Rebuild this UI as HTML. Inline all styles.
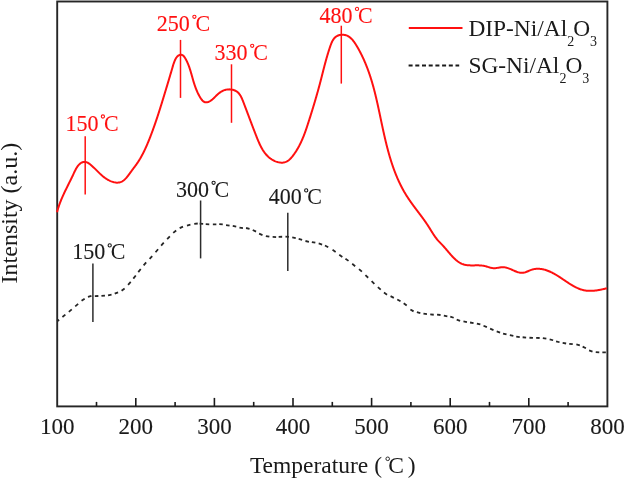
<!DOCTYPE html>
<html><head><meta charset="utf-8"><style>
html,body{margin:0;padding:0;background:#fff;}
body{width:625px;height:479px;overflow:hidden;}
svg{display:block;will-change:transform;}
text{font-family:"Liberation Serif",serif;}
</style></head><body>
<svg width="625" height="479" viewBox="0 0 625 479">
<rect x="57.2" y="1.5" width="550.2" height="404.9" fill="none" stroke="#262626" stroke-width="1.9"/>
<line x1="96.50" y1="406.4" x2="96.50" y2="401.9" stroke="#1a1a1a" stroke-width="1.6"/>
<line x1="135.80" y1="406.4" x2="135.80" y2="397.9" stroke="#1a1a1a" stroke-width="1.6"/>
<line x1="175.10" y1="406.4" x2="175.10" y2="401.9" stroke="#1a1a1a" stroke-width="1.6"/>
<line x1="214.40" y1="406.4" x2="214.40" y2="397.9" stroke="#1a1a1a" stroke-width="1.6"/>
<line x1="253.70" y1="406.4" x2="253.70" y2="401.9" stroke="#1a1a1a" stroke-width="1.6"/>
<line x1="293.00" y1="406.4" x2="293.00" y2="397.9" stroke="#1a1a1a" stroke-width="1.6"/>
<line x1="332.30" y1="406.4" x2="332.30" y2="401.9" stroke="#1a1a1a" stroke-width="1.6"/>
<line x1="371.60" y1="406.4" x2="371.60" y2="397.9" stroke="#1a1a1a" stroke-width="1.6"/>
<line x1="410.90" y1="406.4" x2="410.90" y2="401.9" stroke="#1a1a1a" stroke-width="1.6"/>
<line x1="450.20" y1="406.4" x2="450.20" y2="397.9" stroke="#1a1a1a" stroke-width="1.6"/>
<line x1="489.50" y1="406.4" x2="489.50" y2="401.9" stroke="#1a1a1a" stroke-width="1.6"/>
<line x1="528.80" y1="406.4" x2="528.80" y2="397.9" stroke="#1a1a1a" stroke-width="1.6"/>
<line x1="568.10" y1="406.4" x2="568.10" y2="401.9" stroke="#1a1a1a" stroke-width="1.6"/>
<text stroke="#1a1a1a" stroke-width="0.12" stroke-linejoin="round" transform="translate(57.2,433.5) scale(1,1.03)" font-size="23" text-anchor="middle" fill="#1a1a1a">100</text>
<text stroke="#1a1a1a" stroke-width="0.12" stroke-linejoin="round" transform="translate(135.8,433.5) scale(1,1.03)" font-size="23" text-anchor="middle" fill="#1a1a1a">200</text>
<text stroke="#1a1a1a" stroke-width="0.12" stroke-linejoin="round" transform="translate(214.4,433.5) scale(1,1.03)" font-size="23" text-anchor="middle" fill="#1a1a1a">300</text>
<text stroke="#1a1a1a" stroke-width="0.12" stroke-linejoin="round" transform="translate(293.0,433.5) scale(1,1.03)" font-size="23" text-anchor="middle" fill="#1a1a1a">400</text>
<text stroke="#1a1a1a" stroke-width="0.12" stroke-linejoin="round" transform="translate(371.6,433.5) scale(1,1.03)" font-size="23" text-anchor="middle" fill="#1a1a1a">500</text>
<text stroke="#1a1a1a" stroke-width="0.12" stroke-linejoin="round" transform="translate(450.2,433.5) scale(1,1.03)" font-size="23" text-anchor="middle" fill="#1a1a1a">600</text>
<text stroke="#1a1a1a" stroke-width="0.12" stroke-linejoin="round" transform="translate(528.8,433.5) scale(1,1.03)" font-size="23" text-anchor="middle" fill="#1a1a1a">700</text>
<text stroke="#1a1a1a" stroke-width="0.12" stroke-linejoin="round" transform="translate(607.4,433.5) scale(1,1.03)" font-size="23" text-anchor="middle" fill="#1a1a1a">800</text>
<path d="M57.02,212.17L57.22,211.43L57.43,210.69L57.64,209.96L57.85,209.23L58.07,208.52L58.29,207.81L58.52,207.10L58.75,206.41L58.98,205.72L59.22,205.03L59.46,204.35L59.71,203.68L59.95,203.01L60.20,202.35L60.46,201.69L60.72,201.03L60.98,200.38L61.24,199.73L61.51,199.09L61.78,198.45L62.05,197.81L62.32,197.18L62.60,196.55L62.88,195.92L63.16,195.29L63.45,194.66L63.73,194.04L64.02,193.42L64.32,192.79L64.61,192.17L64.91,191.55L65.20,190.93L65.50,190.31L65.81,189.69L66.11,189.07L66.42,188.45L66.72,187.83L67.03,187.21L67.34,186.58L67.65,185.95L67.97,185.33L68.28,184.70L68.60,184.06L68.91,183.43L69.23,182.79L69.55,182.15L69.87,181.50L70.19,180.85L70.51,180.20L70.84,179.54L71.16,178.88L71.48,178.22L71.81,177.54L72.13,176.87L72.46,176.19L72.78,175.50L73.11,174.81L73.43,174.11L73.76,173.41L74.09,172.70L74.42,172.00L74.76,171.30L75.10,170.61L75.45,169.93L75.80,169.26L76.16,168.60L76.54,167.96L76.92,167.34L77.31,166.74L77.71,166.16L78.13,165.61L78.56,165.09L79.01,164.60L79.47,164.14L79.95,163.72L80.44,163.34L80.96,163.00L81.49,162.70L82.05,162.45L82.62,162.25L83.22,162.09L83.83,161.99L84.45,161.95L85.08,161.97L85.71,162.04L86.34,162.18L86.97,162.39L87.60,162.66L88.22,163.00L88.83,163.39L89.43,163.81L90.01,164.27L90.59,164.74L91.16,165.21L91.71,165.69L92.26,166.17L92.79,166.66L93.32,167.15L93.85,167.65L94.36,168.15L94.87,168.65L95.38,169.15L95.88,169.65L96.38,170.15L96.88,170.65L97.38,171.15L97.88,171.65L98.38,172.15L98.88,172.65L99.39,173.14L99.90,173.63L100.41,174.11L100.93,174.59L101.46,175.07L102.00,175.53L102.54,176.00L103.09,176.45L103.65,176.90L104.23,177.34L104.81,177.77L105.41,178.19L106.02,178.61L106.65,179.01L107.28,179.40L107.93,179.77L108.58,180.13L109.25,180.47L109.92,180.79L110.59,181.09L111.27,181.37L111.95,181.62L112.63,181.86L113.32,182.06L114.00,182.24L114.68,182.38L115.36,182.50L116.04,182.58L116.71,182.63L117.37,182.64L118.03,182.61L118.68,182.55L119.32,182.45L119.95,182.30L120.56,182.11L121.16,181.88L121.75,181.60L122.33,181.28L122.89,180.92L123.44,180.53L123.99,180.10L124.52,179.64L125.04,179.16L125.55,178.64L126.05,178.11L126.54,177.55L127.03,176.98L127.51,176.39L127.98,175.79L128.45,175.18L128.91,174.56L129.37,173.94L129.82,173.32L130.27,172.70L130.72,172.08L131.16,171.46L131.60,170.86L132.04,170.27L132.48,169.68L132.92,169.10L133.35,168.52L133.78,167.96L134.21,167.39L134.63,166.82L135.05,166.26L135.47,165.70L135.88,165.14L136.28,164.57L136.68,164.01L137.08,163.43L137.47,162.86L137.86,162.28L138.24,161.70L138.61,161.12L138.98,160.53L139.35,159.94L139.71,159.34L140.07,158.75L140.42,158.14L140.77,157.54L141.11,156.93L141.45,156.33L141.79,155.71L142.12,155.10L142.45,154.48L142.77,153.86L143.09,153.24L143.41,152.61L143.72,151.99L144.03,151.36L144.34,150.72L144.64,150.09L144.94,149.45L145.24,148.81L145.54,148.17L145.83,147.53L146.12,146.88L146.41,146.24L146.69,145.59L146.97,144.94L147.25,144.29L147.53,143.63L147.80,142.98L148.08,142.32L148.35,141.66L148.62,141.00L148.89,140.34L149.15,139.68L149.42,139.02L149.68,138.35L149.94,137.69L150.20,137.02L150.46,136.35L150.72,135.68L150.97,135.01L151.23,134.34L151.48,133.67L151.73,133.00L151.99,132.33L152.24,131.65L152.48,130.98L152.73,130.30L152.98,129.63L153.22,128.95L153.47,128.27L153.71,127.59L153.95,126.92L154.19,126.24L154.43,125.56L154.67,124.88L154.91,124.20L155.14,123.52L155.38,122.83L155.61,122.15L155.84,121.47L156.08,120.79L156.31,120.11L156.54,119.43L156.76,118.74L156.99,118.06L157.22,117.38L157.44,116.70L157.67,116.01L157.89,115.33L158.12,114.65L158.34,113.97L158.56,113.28L158.78,112.60L159.00,111.92L159.22,111.24L159.44,110.56L159.65,109.88L159.87,109.20L160.08,108.52L160.30,107.84L160.51,107.16L160.72,106.48L160.94,105.80L161.15,105.12L161.36,104.45L161.57,103.77L161.78,103.09L161.99,102.42L162.20,101.74L162.40,101.07L162.61,100.40L162.82,99.73L163.02,99.05L163.23,98.38L163.43,97.72L163.63,97.05L163.84,96.38L164.04,95.71L164.24,95.05L164.44,94.38L164.64,93.72L164.84,93.06L165.04,92.40L165.24,91.74L165.44,91.08L165.64,90.42L165.84,89.77L166.04,89.11L166.24,88.46L166.43,87.81L166.63,87.15L166.83,86.50L167.03,85.84L167.22,85.18L167.42,84.53L167.62,83.87L167.82,83.21L168.02,82.54L168.22,81.88L168.42,81.21L168.62,80.54L168.82,79.87L169.02,79.19L169.22,78.51L169.43,77.82L169.63,77.14L169.84,76.44L170.04,75.74L170.25,75.04L170.46,74.33L170.67,73.62L170.88,72.89L171.09,72.17L171.31,71.43L171.53,70.69L171.74,69.95L171.96,69.19L172.19,68.43L172.41,67.66L172.64,66.89L172.87,66.11L173.10,65.33L173.34,64.56L173.59,63.80L173.85,63.05L174.11,62.31L174.38,61.59L174.67,60.88L174.96,60.20L175.27,59.55L175.59,58.92L175.93,58.33L176.28,57.77L176.64,57.25L177.03,56.76L177.43,56.33L177.85,55.94L178.29,55.60L178.75,55.31L179.24,55.08L179.74,54.90L180.27,54.79L180.81,54.75L181.35,54.79L181.89,54.91L182.42,55.11L182.92,55.41L183.40,55.81L183.85,56.28L184.28,56.82L184.70,57.41L185.09,58.03L185.47,58.67L185.83,59.31L186.18,59.97L186.52,60.62L186.85,61.28L187.17,61.94L187.47,62.61L187.76,63.28L188.05,63.96L188.32,64.64L188.59,65.32L188.85,66.00L189.10,66.69L189.34,67.37L189.58,68.06L189.81,68.75L190.03,69.45L190.25,70.14L190.46,70.84L190.67,71.53L190.88,72.23L191.08,72.92L191.28,73.62L191.47,74.31L191.67,75.01L191.86,75.70L192.06,76.39L192.25,77.08L192.44,77.77L192.64,78.46L192.83,79.14L193.03,79.82L193.23,80.50L193.43,81.18L193.63,81.86L193.84,82.54L194.05,83.21L194.26,83.88L194.48,84.55L194.70,85.22L194.93,85.88L195.16,86.55L195.40,87.21L195.65,87.87L195.90,88.54L196.16,89.20L196.42,89.85L196.70,90.51L196.98,91.17L197.27,91.82L197.57,92.47L197.87,93.13L198.19,93.78L198.52,94.43L198.85,95.08L199.20,95.73L199.56,96.37L199.93,97.02L200.31,97.66L200.71,98.29L201.12,98.90L201.55,99.48L201.99,100.03L202.45,100.54L202.93,101.00L203.42,101.40L203.94,101.74L204.48,102.01L205.05,102.21L205.63,102.32L206.24,102.35L206.87,102.29L207.50,102.16L208.14,101.98L208.76,101.73L209.37,101.44L209.98,101.11L210.56,100.74L211.15,100.34L211.72,99.91L212.28,99.45L212.84,98.96L213.40,98.46L213.95,97.94L214.49,97.42L215.04,96.88L215.59,96.35L216.14,95.81L216.69,95.28L217.24,94.76L217.80,94.26L218.36,93.76L218.93,93.29L219.51,92.85L220.10,92.42L220.69,92.02L221.29,91.65L221.90,91.30L222.52,90.97L223.15,90.68L223.79,90.41L224.43,90.17L225.09,89.96L225.76,89.78L226.43,89.63L227.12,89.52L227.81,89.43L228.52,89.38L229.24,89.37L229.96,89.38L230.68,89.43L231.40,89.52L232.11,89.64L232.82,89.79L233.51,89.98L234.19,90.21L234.84,90.47L235.48,90.76L236.09,91.09L236.67,91.45L237.22,91.85L237.74,92.29L238.24,92.75L238.70,93.24L239.15,93.76L239.56,94.31L239.96,94.88L240.34,95.47L240.70,96.07L241.04,96.70L241.37,97.34L241.68,97.99L241.98,98.66L242.27,99.33L242.55,100.01L242.83,100.70L243.10,101.38L243.36,102.07L243.63,102.76L243.89,103.45L244.15,104.13L244.41,104.82L244.67,105.50L244.93,106.18L245.18,106.85L245.44,107.53L245.69,108.20L245.95,108.87L246.20,109.54L246.45,110.21L246.70,110.88L246.95,111.54L247.20,112.21L247.45,112.87L247.70,113.53L247.95,114.20L248.20,114.86L248.45,115.52L248.70,116.17L248.94,116.83L249.19,117.49L249.44,118.15L249.69,118.80L249.93,119.46L250.18,120.11L250.43,120.77L250.67,121.42L250.92,122.08L251.17,122.73L251.42,123.39L251.66,124.04L251.91,124.70L252.16,125.35L252.41,126.01L252.66,126.66L252.91,127.32L253.16,127.98L253.42,128.63L253.67,129.29L253.92,129.95L254.18,130.61L254.43,131.27L254.69,131.93L254.94,132.59L255.20,133.26L255.46,133.92L255.72,134.59L255.98,135.25L256.25,135.92L256.51,136.59L256.78,137.26L257.04,137.94L257.31,138.61L257.58,139.28L257.86,139.95L258.14,140.62L258.42,141.29L258.71,141.96L259.00,142.63L259.29,143.29L259.60,143.95L259.90,144.60L260.21,145.25L260.53,145.90L260.86,146.54L261.19,147.18L261.53,147.81L261.88,148.44L262.24,149.06L262.60,149.67L262.97,150.27L263.36,150.87L263.75,151.45L264.15,152.03L264.56,152.60L264.99,153.16L265.42,153.71L265.87,154.25L266.32,154.77L266.79,155.29L267.27,155.80L267.77,156.29L268.28,156.77L268.80,157.23L269.34,157.68L269.89,158.12L270.45,158.54L271.03,158.95L271.63,159.35L272.24,159.72L272.87,160.08L273.51,160.43L274.17,160.75L274.84,161.06L275.52,161.34L276.21,161.60L276.91,161.84L277.62,162.05L278.32,162.23L279.03,162.38L279.74,162.50L280.45,162.59L281.15,162.64L281.85,162.66L282.54,162.64L283.22,162.58L283.89,162.48L284.55,162.34L285.19,162.15L285.81,161.92L286.42,161.64L287.02,161.33L287.60,160.98L288.16,160.60L288.72,160.18L289.26,159.74L289.78,159.27L290.30,158.77L290.80,158.25L291.29,157.72L291.77,157.16L292.24,156.60L292.70,156.02L293.15,155.43L293.59,154.84L294.02,154.24L294.45,153.65L294.86,153.05L295.27,152.44L295.67,151.84L296.07,151.23L296.45,150.62L296.83,150.00L297.20,149.39L297.57,148.77L297.93,148.15L298.28,147.53L298.62,146.91L298.96,146.28L299.30,145.65L299.62,145.02L299.94,144.39L300.26,143.75L300.57,143.12L300.87,142.48L301.17,141.84L301.47,141.20L301.76,140.56L302.04,139.91L302.32,139.26L302.60,138.62L302.87,137.97L303.14,137.32L303.40,136.66L303.66,136.01L303.92,135.35L304.17,134.70L304.42,134.04L304.67,133.38L304.91,132.72L305.16,132.05L305.39,131.39L305.63,130.73L305.86,130.06L306.09,129.39L306.32,128.72L306.55,128.06L306.78,127.39L307.00,126.72L307.22,126.04L307.44,125.37L307.66,124.70L307.88,124.02L308.10,123.35L308.32,122.67L308.54,122.00L308.75,121.32L308.97,120.64L309.19,119.97L309.40,119.29L309.62,118.61L309.84,117.93L310.05,117.25L310.27,116.57L310.48,115.89L310.70,115.21L310.91,114.53L311.12,113.84L311.34,113.16L311.55,112.48L311.76,111.79L311.97,111.11L312.18,110.43L312.39,109.74L312.60,109.06L312.81,108.37L313.02,107.69L313.23,107.00L313.44,106.32L313.64,105.63L313.85,104.95L314.06,104.26L314.26,103.58L314.47,102.89L314.67,102.20L314.88,101.52L315.08,100.83L315.28,100.14L315.48,99.46L315.68,98.77L315.88,98.08L316.08,97.40L316.28,96.71L316.48,96.03L316.67,95.34L316.87,94.65L317.06,93.97L317.26,93.28L317.45,92.60L317.64,91.91L317.84,91.22L318.03,90.54L318.22,89.85L318.41,89.17L318.59,88.49L318.78,87.80L318.97,87.12L319.15,86.43L319.34,85.75L319.52,85.07L319.70,84.38L319.88,83.70L320.06,83.02L320.24,82.34L320.42,81.66L320.60,80.98L320.77,80.30L320.95,79.62L321.12,78.94L321.30,78.26L321.47,77.58L321.64,76.90L321.81,76.22L321.99,75.54L322.16,74.87L322.33,74.19L322.50,73.51L322.68,72.83L322.85,72.15L323.02,71.47L323.19,70.79L323.37,70.11L323.54,69.43L323.72,68.75L323.89,68.07L324.07,67.39L324.24,66.71L324.42,66.03L324.60,65.35L324.78,64.67L324.96,63.98L325.14,63.30L325.33,62.62L325.51,61.93L325.70,61.25L325.89,60.56L326.08,59.87L326.27,59.19L326.46,58.50L326.66,57.81L326.86,57.12L327.06,56.43L327.26,55.74L327.47,55.04L327.67,54.35L327.88,53.65L328.10,52.96L328.31,52.26L328.53,51.56L328.75,50.86L328.97,50.16L329.20,49.46L329.43,48.75L329.66,48.05L329.90,47.34L330.14,46.63L330.39,45.93L330.64,45.22L330.89,44.52L331.16,43.82L331.44,43.13L331.73,42.46L332.04,41.79L332.36,41.15L332.70,40.52L333.06,39.91L333.44,39.33L333.85,38.77L334.28,38.24L334.74,37.74L335.23,37.27L335.75,36.84L336.30,36.44L336.89,36.09L337.51,35.78L338.16,35.50L338.84,35.27L339.53,35.08L340.24,34.94L340.96,34.83L341.68,34.76L342.40,34.74L343.11,34.75L343.81,34.81L344.50,34.90L345.16,35.04L345.80,35.21L346.43,35.42L347.04,35.66L347.63,35.94L348.21,36.25L348.77,36.59L349.32,36.95L349.85,37.35L350.37,37.77L350.87,38.22L351.36,38.68L351.84,39.17L352.31,39.68L352.77,40.21L353.21,40.76L353.65,41.32L354.08,41.89L354.50,42.48L354.91,43.08L355.31,43.69L355.70,44.30L356.09,44.93L356.48,45.55L356.85,46.18L357.23,46.82L357.59,47.45L357.96,48.09L358.32,48.73L358.67,49.36L359.03,50.00L359.37,50.64L359.72,51.28L360.06,51.93L360.39,52.57L360.72,53.21L361.05,53.86L361.38,54.50L361.70,55.15L362.01,55.79L362.33,56.44L362.63,57.09L362.94,57.74L363.24,58.39L363.54,59.04L363.84,59.69L364.13,60.35L364.41,61.00L364.70,61.65L364.98,62.31L365.26,62.97L365.53,63.62L365.80,64.28L366.07,64.94L366.34,65.60L366.60,66.26L366.86,66.92L367.12,67.58L367.37,68.24L367.62,68.91L367.87,69.57L368.11,70.24L368.35,70.90L368.59,71.57L368.83,72.23L369.06,72.90L369.29,73.57L369.52,74.24L369.74,74.91L369.97,75.58L370.19,76.25L370.41,76.92L370.62,77.59L370.84,78.26L371.05,78.94L371.26,79.61L371.46,80.29L371.67,80.96L371.87,81.64L372.07,82.31L372.27,82.99L372.46,83.67L372.66,84.35L372.85,85.03L373.04,85.70L373.23,86.38L373.41,87.07L373.60,87.75L373.78,88.43L373.96,89.11L374.14,89.79L374.32,90.48L374.50,91.16L374.67,91.84L374.84,92.53L375.02,93.21L375.19,93.90L375.36,94.59L375.52,95.27L375.69,95.96L375.86,96.65L376.02,97.33L376.18,98.02L376.34,98.71L376.51,99.40L376.66,100.09L376.82,100.78L376.98,101.47L377.14,102.16L377.29,102.85L377.45,103.54L377.60,104.24L377.76,104.93L377.91,105.62L378.06,106.32L378.21,107.01L378.36,107.70L378.51,108.40L378.66,109.09L378.81,109.79L378.96,110.48L379.11,111.18L379.26,111.87L379.40,112.57L379.55,113.27L379.70,113.96L379.85,114.66L379.99,115.36L380.14,116.05L380.29,116.75L380.43,117.45L380.58,118.15L380.73,118.85L380.87,119.54L381.02,120.24L381.17,120.94L381.32,121.64L381.46,122.34L381.61,123.04L381.76,123.74L381.91,124.44L382.06,125.14L382.21,125.84L382.36,126.54L382.51,127.24L382.66,127.94L382.81,128.64L382.96,129.34L383.11,130.04L383.27,130.74L383.42,131.44L383.57,132.14L383.73,132.84L383.88,133.54L384.04,134.24L384.20,134.94L384.36,135.64L384.52,136.34L384.68,137.04L384.84,137.73L385.00,138.43L385.16,139.13L385.33,139.83L385.49,140.52L385.66,141.22L385.83,141.92L386.00,142.61L386.17,143.31L386.34,144.00L386.51,144.70L386.69,145.39L386.86,146.09L387.04,146.78L387.22,147.47L387.40,148.16L387.58,148.86L387.76,149.55L387.94,150.24L388.13,150.93L388.32,151.62L388.51,152.30L388.70,152.99L388.89,153.68L389.08,154.37L389.28,155.05L389.48,155.74L389.68,156.42L389.88,157.10L390.08,157.78L390.29,158.47L390.50,159.15L390.71,159.83L390.92,160.51L391.13,161.18L391.35,161.86L391.56,162.54L391.78,163.21L392.01,163.89L392.23,164.56L392.46,165.23L392.69,165.90L392.92,166.57L393.15,167.24L393.39,167.91L393.63,168.57L393.87,169.24L394.11,169.90L394.36,170.57L394.61,171.23L394.86,171.89L395.11,172.55L395.37,173.20L395.63,173.86L395.89,174.52L396.16,175.17L396.42,175.82L396.69,176.47L396.97,177.12L397.24,177.77L397.52,178.42L397.81,179.07L398.09,179.71L398.38,180.35L398.67,180.99L398.96,181.63L399.26,182.27L399.56,182.91L399.87,183.54L400.17,184.18L400.48,184.81L400.80,185.44L401.12,186.07L401.44,186.69L401.76,187.32L402.09,187.94L402.42,188.56L402.75,189.18L403.09,189.80L403.43,190.42L403.78,191.03L404.12,191.64L404.48,192.25L404.83,192.86L405.19,193.47L405.56,194.07L405.92,194.68L406.29,195.28L406.67,195.88L407.05,196.47L407.43,197.07L407.82,197.66L408.21,198.25L408.60,198.84L409.00,199.43L409.40,200.02L409.80,200.60L410.20,201.18L410.61,201.77L411.02,202.35L411.44,202.93L411.85,203.51L412.27,204.08L412.69,204.66L413.11,205.24L413.53,205.81L413.96,206.38L414.38,206.96L414.81,207.53L415.24,208.10L415.67,208.68L416.10,209.25L416.53,209.82L416.96,210.39L417.39,210.96L417.82,211.54L418.26,212.11L418.69,212.68L419.12,213.25L419.55,213.83L419.98,214.40L420.41,214.97L420.84,215.55L421.27,216.12L421.70,216.70L422.12,217.27L422.55,217.85L422.97,218.43L423.39,219.01L423.81,219.59L424.23,220.17L424.64,220.76L425.06,221.34L425.47,221.93L425.87,222.52L426.28,223.11L426.68,223.70L427.08,224.29L427.48,224.89L427.87,225.48L428.26,226.08L428.65,226.68L429.03,227.29L429.41,227.89L429.79,228.50L430.16,229.11L430.54,229.71L430.91,230.32L431.28,230.93L431.66,231.53L432.03,232.13L432.41,232.73L432.79,233.33L433.17,233.92L433.55,234.51L433.94,235.10L434.33,235.68L434.73,236.25L435.13,236.82L435.54,237.38L435.96,237.94L436.38,238.49L436.82,239.02L437.26,239.55L437.70,240.08L438.16,240.59L438.62,241.11L439.09,241.61L439.56,242.12L440.04,242.62L440.52,243.12L441.00,243.63L441.49,244.13L441.97,244.64L442.46,245.15L442.94,245.67L443.43,246.19L443.91,246.73L444.39,247.27L444.87,247.81L445.35,248.36L445.83,248.92L446.31,249.48L446.79,250.04L447.26,250.61L447.74,251.18L448.22,251.75L448.70,252.31L449.18,252.88L449.66,253.44L450.15,254.00L450.64,254.56L451.13,255.11L451.62,255.66L452.12,256.20L452.62,256.73L453.12,257.26L453.63,257.77L454.14,258.28L454.66,258.77L455.18,259.25L455.71,259.72L456.24,260.18L456.78,260.62L457.33,261.05L457.88,261.46L458.44,261.85L459.01,262.23L459.58,262.59L460.16,262.93L460.75,263.24L461.35,263.54L461.96,263.82L462.58,264.07L463.21,264.29L463.84,264.50L464.49,264.67L465.15,264.83L465.81,264.96L466.49,265.07L467.17,265.16L467.86,265.23L468.55,265.29L469.25,265.33L469.96,265.36L470.68,265.38L471.39,265.39L472.11,265.40L472.84,265.39L473.57,265.39L474.30,265.38L475.03,265.37L475.76,265.36L476.49,265.36L477.23,265.36L477.96,265.36L478.69,265.37L479.42,265.40L480.14,265.43L480.87,265.48L481.59,265.54L482.30,265.62L483.01,265.72L483.72,265.83L484.42,265.97L485.12,266.13L485.80,266.31L486.49,266.50L487.17,266.70L487.84,266.91L488.52,267.11L489.19,267.32L489.86,267.51L490.53,267.68L491.20,267.84L491.87,267.97L492.54,268.08L493.22,268.15L493.90,268.19L494.59,268.18L495.27,268.14L495.96,268.08L496.66,267.99L497.35,267.88L498.05,267.76L498.75,267.65L499.45,267.53L500.15,267.42L500.86,267.32L501.56,267.25L502.26,267.20L502.96,267.19L503.66,267.22L504.36,267.28L505.05,267.38L505.75,267.52L506.44,267.69L507.14,267.88L507.83,268.10L508.52,268.34L509.20,268.60L509.89,268.88L510.58,269.16L511.26,269.46L511.94,269.76L512.62,270.07L513.30,270.37L513.98,270.67L514.66,270.96L515.33,271.24L516.01,271.51L516.68,271.77L517.35,272.00L518.02,272.21L518.69,272.40L519.36,272.56L520.03,272.68L520.69,272.77L521.35,272.83L522.02,272.84L522.68,272.80L523.34,272.72L523.99,272.60L524.65,272.43L525.31,272.24L525.97,272.02L526.63,271.77L527.29,271.51L527.95,271.24L528.61,270.96L529.27,270.68L529.94,270.40L530.61,270.14L531.28,269.88L531.96,269.65L532.64,269.45L533.32,269.27L534.01,269.12L534.70,269.00L535.39,268.90L536.09,268.83L536.78,268.78L537.48,268.76L538.17,268.76L538.87,268.79L539.56,268.83L540.25,268.89L540.94,268.98L541.63,269.08L542.31,269.20L542.99,269.33L543.67,269.48L544.34,269.65L545.01,269.83L545.67,270.03L546.33,270.24L546.99,270.46L547.64,270.70L548.30,270.95L548.94,271.21L549.59,271.49L550.23,271.77L550.87,272.07L551.51,272.37L552.14,272.69L552.77,273.01L553.40,273.35L554.03,273.69L554.65,274.04L555.27,274.39L555.89,274.76L556.51,275.13L557.13,275.50L557.74,275.88L558.35,276.27L558.96,276.66L559.57,277.05L560.18,277.45L560.79,277.85L561.39,278.25L562.00,278.65L562.60,279.06L563.20,279.47L563.80,279.87L564.40,280.28L565.00,280.68L565.60,281.09L566.20,281.49L566.80,281.89L567.40,282.29L568.00,282.69L568.60,283.08L569.20,283.47L569.80,283.85L570.41,284.23L571.01,284.60L571.62,284.97L572.22,285.33L572.83,285.68L573.44,286.03L574.06,286.37L574.67,286.70L575.29,287.02L575.91,287.33L576.53,287.63L577.16,287.93L577.79,288.21L578.42,288.48L579.06,288.73L579.70,288.98L580.35,289.21L581.00,289.43L581.65,289.64L582.31,289.83L582.98,290.00L583.65,290.16L584.32,290.31L585.00,290.44L585.69,290.55L586.38,290.65L587.07,290.72L587.78,290.78L588.49,290.83L589.20,290.86L589.91,290.87L590.63,290.87L591.36,290.85L592.08,290.82L592.81,290.78L593.54,290.72L594.26,290.66L594.99,290.58L595.72,290.49L596.45,290.40L597.17,290.29L597.89,290.18L598.61,290.06L599.33,289.93L600.04,289.80L600.75,289.66L601.45,289.52L602.15,289.37L602.84,289.22L603.52,289.07L604.20,288.91L604.87,288.75L605.53,288.60L606.18,288.44L606.82,288.28" fill="none" stroke="#ff1010" stroke-width="2" stroke-linejoin="round"/>
<path d="M57.20,321.22L59.07,319.71M62.43,316.99L65.37,314.61M68.85,311.82L71.75,309.38M75.25,306.33L78.15,303.87M81.55,300.74L84.65,298.66M87.96,296.86L91.44,295.94M94.84,296.18L98.36,296.02M101.44,295.96L104.96,295.64M108.05,295.27L111.55,294.53M114.71,293.66L118.09,292.34M121.59,290.82L124.61,288.58M128.09,284.84L130.71,281.96M133.33,278.65L135.77,275.55M138.28,272.15L140.72,269.05M143.62,265.37L146.18,262.43M149.60,258.94L152.20,256.06M155.52,252.23L158.08,249.27M161.15,245.55L163.75,242.65M167.15,239.07L169.85,236.33M173.23,232.84L176.17,230.46M179.69,228.13L183.01,226.57M186.96,225.53L190.44,224.67M194.24,223.88L197.76,223.52M199.64,223.72L203.16,223.88M205.74,224.12L209.26,224.28M212.85,224.40L216.35,224.40M219.24,224.08L222.76,224.32M226.04,225.03L229.56,225.57M232.75,225.97L236.25,226.63M239.44,227.52L242.96,228.08M246.05,228.00L249.55,228.80M252.74,230.03L256.06,231.57M259.12,233.69L262.48,235.11M265.85,236.07L269.35,236.73M272.65,236.95L276.15,237.05M278.65,236.83L282.15,236.77M285.44,236.67L288.96,236.93M292.25,237.46L295.75,238.14M298.67,238.93L302.13,239.87M305.45,241.00L308.95,241.80M311.85,242.06L315.35,242.74M318.68,243.47L322.12,244.53M324.96,245.57L328.24,247.23M332.55,249.86L335.65,251.94M339.26,254.84L342.34,256.96M345.47,258.72L348.53,260.88M352.22,263.83L355.18,266.17M359.01,269.15L361.89,271.65M365.42,275.07L368.18,277.73M371.62,281.17L374.38,283.83M377.88,287.13L380.72,289.67M383.95,292.56L387.05,294.64M390.56,296.17L393.84,297.83M397.29,299.43L400.51,301.27M403.71,303.25L406.69,305.55M410.42,309.43L413.58,311.37M416.86,312.15L420.34,313.05M423.44,313.54L426.96,314.06M430.24,314.47L433.76,314.73M437.04,314.62L440.56,314.98M443.85,315.68L447.35,316.32M450.28,316.64L453.72,317.76M456.69,319.60L460.11,320.80M463.45,321.46L466.95,322.14M470.04,322.51L473.56,323.09M476.86,323.53L480.34,324.47M483.51,325.71L486.89,327.09M490.12,328.69L493.48,330.11M496.69,331.40L500.11,332.60M503.07,333.53L506.53,334.47M509.85,335.23L513.35,335.97M516.24,336.55L519.76,337.05M522.64,337.27L526.16,337.53M529.44,337.73L532.96,337.87M536.14,337.82L539.66,337.98M542.84,338.15L546.36,338.65M549.66,339.35L553.14,340.25M556.06,341.35L559.54,342.25M562.65,342.91L566.15,343.49M569.24,343.78L572.76,344.22M576.36,344.46L579.84,345.34M582.65,346.61L585.95,348.19M589.10,350.37L592.50,351.63M595.74,352.13L599.26,352.47M602.35,352.30L605.85,352.30" fill="none" stroke="#262626" stroke-width="1.8"/>
<line x1="85.2" y1="136.3" x2="85.2" y2="194.4" stroke="#ff1010" stroke-width="1.5"/>
<line x1="180.5" y1="39.9" x2="180.5" y2="97.9" stroke="#ff1010" stroke-width="1.5"/>
<line x1="231.5" y1="64.3" x2="231.5" y2="122.8" stroke="#ff1010" stroke-width="1.5"/>
<line x1="341.3" y1="25.7" x2="341.3" y2="83.6" stroke="#ff1010" stroke-width="1.5"/>
<line x1="92.9" y1="263.6" x2="92.9" y2="321.9" stroke="#2c2c2c" stroke-width="1.5"/>
<line x1="200.6" y1="200.5" x2="200.6" y2="258.4" stroke="#2c2c2c" stroke-width="1.5"/>
<line x1="287.8" y1="212.8" x2="287.8" y2="271" stroke="#2c2c2c" stroke-width="1.5"/>
<text stroke="#ff1010" stroke-width="0.12" stroke-linejoin="round" transform="translate(65.4,130.5) scale(1,1.03)" font-size="22" fill="#ff1010">150</text>
<circle cx="102.9" cy="116.5" r="1.6" fill="none" stroke="#ff1010" stroke-width="1.1"/>
<text transform="translate(103.9,130.5) scale(1,1.03)" font-size="22" fill="#ff1010">C</text>
<text stroke="#ff1010" stroke-width="0.12" stroke-linejoin="round" transform="translate(156.8,30.8) scale(1,1.03)" font-size="22" fill="#ff1010">250</text>
<circle cx="194.4" cy="16.8" r="1.6" fill="none" stroke="#ff1010" stroke-width="1.1"/>
<text transform="translate(195.4,30.8) scale(1,1.03)" font-size="22" fill="#ff1010">C</text>
<text stroke="#ff1010" stroke-width="0.12" stroke-linejoin="round" transform="translate(214.6,59.8) scale(1,1.03)" font-size="22" fill="#ff1010">330</text>
<circle cx="252.2" cy="45.8" r="1.6" fill="none" stroke="#ff1010" stroke-width="1.1"/>
<text transform="translate(253.2,59.8) scale(1,1.03)" font-size="22" fill="#ff1010">C</text>
<text stroke="#ff1010" stroke-width="0.12" stroke-linejoin="round" transform="translate(319.5,22.9) scale(1,1.03)" font-size="22" fill="#ff1010">480</text>
<circle cx="357.0" cy="8.9" r="1.6" fill="none" stroke="#ff1010" stroke-width="1.1"/>
<text transform="translate(358.0,22.9) scale(1,1.03)" font-size="22" fill="#ff1010">C</text>
<text stroke="#1a1a1a" stroke-width="0.12" stroke-linejoin="round" transform="translate(176.0,196.8) scale(1,1.03)" font-size="22" fill="#1a1a1a">300</text>
<circle cx="213.6" cy="182.8" r="1.6" fill="none" stroke="#1a1a1a" stroke-width="1.1"/>
<text transform="translate(214.6,196.8) scale(1,1.03)" font-size="22" fill="#1a1a1a">C</text>
<text stroke="#1a1a1a" stroke-width="0.12" stroke-linejoin="round" transform="translate(268.7,204.4) scale(1,1.03)" font-size="22" fill="#1a1a1a">400</text>
<circle cx="306.2" cy="190.4" r="1.6" fill="none" stroke="#1a1a1a" stroke-width="1.1"/>
<text transform="translate(307.2,204.4) scale(1,1.03)" font-size="22" fill="#1a1a1a">C</text>
<text stroke="#1a1a1a" stroke-width="0.12" stroke-linejoin="round" transform="translate(72.2,259.4) scale(1,1.03)" font-size="22" fill="#1a1a1a">150</text>
<circle cx="109.7" cy="245.4" r="1.6" fill="none" stroke="#1a1a1a" stroke-width="1.1"/>
<text transform="translate(110.7,259.4) scale(1,1.03)" font-size="22" fill="#1a1a1a">C</text>
<line x1="408.8" y1="28.1" x2="462.5" y2="28.1" stroke="#ff1010" stroke-width="2"/>
<line x1="408.6" y1="65.4" x2="459.2" y2="65.4" stroke="#1a1a1a" stroke-width="2" stroke-dasharray="4 2.7"/>
<text x="468.4" y="35.9" font-size="23.4" fill="#1a1a1a">DIP-Ni/Al<tspan font-size="14" dy="9.6">2</tspan><tspan dy="-9.6" dx="-1">O</tspan><tspan font-size="14" dy="9.6">3</tspan></text>
<text x="468.4" y="73" font-size="23.4" fill="#1a1a1a">SG-Ni/Al<tspan font-size="14" dy="9.6">2</tspan><tspan dy="-9.6" dx="-1">O</tspan><tspan font-size="14" dy="9.6">3</tspan></text>
<text x="249.9" y="473" font-size="23.5" fill="#1a1a1a">Temperature (</text>
<text x="388.3" y="473" font-size="23.5" fill="#1a1a1a">C</text>
<text x="407.7" y="473" font-size="23.5" fill="#1a1a1a">)</text>
<circle cx="387.7" cy="458.8" r="1.8" fill="none" stroke="#1a1a1a" stroke-width="0.9"/>
<text transform="translate(17.2,283.4) rotate(-90)" x="0" y="0" font-size="24" fill="#1a1a1a">Intensity (a.u.)</text>
</svg>
</body></html>
